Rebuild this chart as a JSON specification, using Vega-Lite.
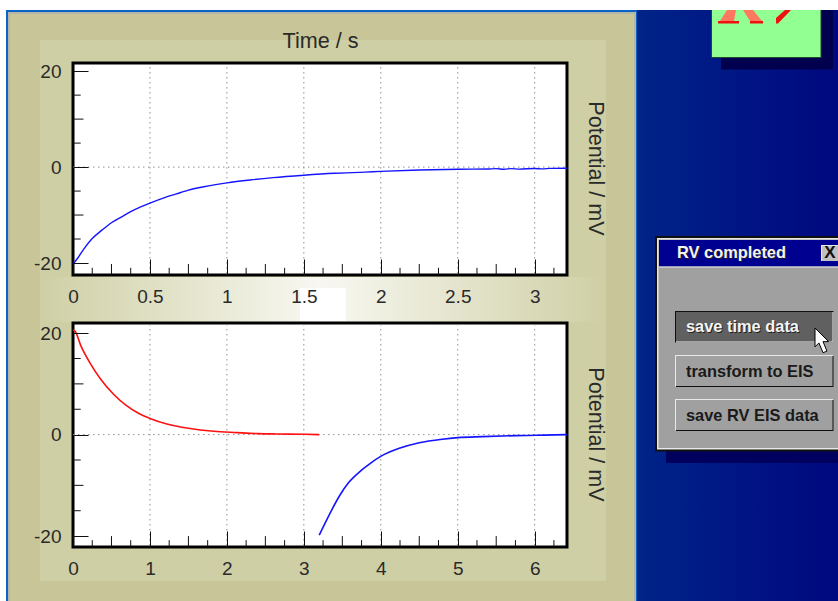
{
"$schema":"https://vega.github.io/schema/vega-lite/v6.json",
"padding":0,"background":"white","bounds":"flush","spacing":0,
"config":{"view":{"stroke":null},"font":"Liberation Sans"},
"datasets":{
"desktop":[{"part":"desktop","x0":637,"x1":838,"y0":10,"y1":601}],
"window":[
{"part":"edge","x0":6,"x1":637,"y0":10,"y1":601},
{"part":"frame","x0":8,"x1":636,"y0":12,"y1":601},
{"part":"outer","x0":10,"x1":634,"y0":14,"y1":601},
{"part":"inner","x0":40,"x1":606,"y0":40,"y1":581}],
"glowL":[{"part":"glow","x0":40,"x1":320,"y0":277,"y1":322}],
"glowR":[{"part":"glow","x0":320,"x1":606,"y0":277,"y1":322}],
"parts":[
{"part":"core","x0":300,"x1":346,"y0":288,"y1":321},
{"part":"boxshadow","x0":721,"x1":833,"y0":10,"y1":69.5},
{"part":"boxedge","x0":711,"x1":821.5,"y0":10,"y1":58},
{"part":"box","x0":712,"x1":820.5,"y0":10,"y1":57},
{"part":"dlgshadow","x0":666,"x1":838,"y0":451,"y1":463},
{"part":"dlgedge","x0":655,"x1":838,"y0":236,"y1":451.5},
{"part":"dlglight","x0":657,"x1":838,"y0":238,"y1":449.5},
{"part":"dlg","x0":658.5,"x1":838,"y0":239.5,"y1":448},
{"part":"bar","x0":659,"x1":838,"y0":240,"y1":266.5},
{"part":"dlglight","x0":659,"x1":838,"y0":266.5,"y1":267.5},
{"part":"dlglight","x0":821,"x1":838,"y0":245,"y1":261},
{"part":"dlg2","x0":822,"x1":838,"y0":246,"y1":261},
{"part":"dlgedge","x0":675,"x1":833.5,"y0":311,"y1":342.5},
{"part":"dlglight","x0":676,"x1":833.5,"y0":312,"y1":342.5},
{"part":"pressed","x0":676,"x1":832.5,"y0":312,"y1":341.5},
{"part":"dlglight","x0":675,"x1":833,"y0":355,"y1":386.5},
{"part":"dlgedge","x0":676,"x1":833.5,"y0":356,"y1":387},
{"part":"dlg","x0":676,"x1":832.5,"y0":356,"y1":386},
{"part":"dlglight","x0":675,"x1":833,"y0":399,"y1":430.5},
{"part":"dlgedge","x0":676,"x1":833.5,"y0":400,"y1":431},
{"part":"dlg","x0":676,"x1":832.5,"y0":400,"y1":430}],
"one":[{"a":1}],
"ticksTopShort":[{"t":0.125},{"t":0.375},{"t":0.625},{"t":0.875},{"t":1.125},{"t":1.375},{"t":1.625},{"t":1.875},{"t":2.125},{"t":2.375},{"t":2.625},{"t":2.875},{"t":3.125}],
"ticksTopMid":[{"t":0.25},{"t":0.75},{"t":1.25},{"t":1.75},{"t":2.25},{"t":2.75}],
"gridTop":[{"t":0.5},{"t":1},{"t":1.5},{"t":2},{"t":2.5},{"t":3}],
"ticksBotShort":[{"t":0.25},{"t":0.75},{"t":1.25},{"t":1.75},{"t":2.25},{"t":2.75},{"t":3.25},{"t":3.75},{"t":4.25},{"t":4.75},{"t":5.25},{"t":5.75},{"t":6.25}],
"ticksBotMid":[{"t":0.5},{"t":1.5},{"t":2.5},{"t":3.5},{"t":4.5},{"t":5.5}],
"gridBot":[{"t":1},{"t":2},{"t":3},{"t":4},{"t":5},{"t":6}],
"yShort":[{"v":15},{"v":5},{"v":-5},{"v":-15}],
"yMid":[{"v":10},{"v":-10}],
"level":[{"v":0}]
},
"vconcat":[
{"width":838,"height":312,
"resolve":{"scale":{"x":"independent","y":"independent"}},
"layer":[
{"encoding":{
"x":{"field":"x0","type":"quantitative","axis":null,"scale":{"domain":[0,838],"nice":false,"zero":false}},
"x2":{"field":"x1"},
"y":{"field":"y0","type":"quantitative","axis":null,"scale":{"domain":[0,312],"reverse":true,"nice":false,"zero":false}},
"y2":{"field":"y1"}},
"layer":[
{"data":{"name":"desktop"},"mark":{"type":"rect","clip":true,"fill":{"gradient":"linear","x1":0,"y1":0,"x2":1,"y2":0,"stops":[{"offset":0,"color":"#002488"},{"offset":1,"color":"#000880"}]}}},
{"data":{"name":"window"},"mark":{"type":"rect","clip":true},
 "encoding":{"color":{"field":"part","type":"nominal","legend":null,"scale":{"domain":["edge","frame","outer","inner"],"range":["#0a62c4","#b4b6a8","#c8c698","#cfcfa5"]}}}},
{"data":{"name":"glowL"},"mark":{"type":"rect","clip":true,"fill":{"gradient":"linear","x1":0,"y1":0,"x2":1,"y2":0,"stops":[{"offset":0,"color":"#cfcfa5"},{"offset":1,"color":"#f8f8f2"}]}}},
{"data":{"name":"glowR"},"mark":{"type":"rect","clip":true,"fill":{"gradient":"linear","x1":0,"y1":0,"x2":1,"y2":0,"stops":[{"offset":0,"color":"#f8f8f2"},{"offset":1,"color":"#cfcfa5"}]}}},
{"data":{"name":"parts"},"mark":{"type":"rect","clip":true},
 "encoding":{"fill":{"field":"part","type":"nominal","legend":null,"scale":{"domain":["core","boxshadow","boxedge","box","dlgshadow","dlgedge","dlglight","dlg","bar","dlg2","pressed"],"range":["#ffffff","#00004e","#1e4a28","#92ff92","#00005f","#101010","#e8e8e8","#a0a0a0","#000090","#c0c0c0","#606060"]}}}},
{"data":{"values":[{"piece":"R","x0":718,"y0":10}]},
 "mark":{"type":"point","filled":true,"opacity":1,"size":10000,"fill":"#ff7860","stroke":null,"shape":"M.18,0L.36,0L.32,.22L.04,.22ZM.5,0L.7,0L.88,.22L.64,.22Z"},
 "encoding":{"x2":null,"y2":null}},
{"data":{"values":[{"piece":"R","x0":718,"y0":10}]},
 "mark":{"type":"point","filled":true,"opacity":1,"size":10000,"fill":"#f01010","stroke":null,"shape":"M0,.22L.42,.22L.42,.27L0,.27ZM.64,.22L.9,.22L.9,.27L.64,.27ZM1.16,.16L1.34,0L1.46,0L1.2,.27L1.16,.27Z"},
 "encoding":{"x2":null,"y2":null}},
{"data":{"values":[{"label":"RV completed","x0":678,"y0":253.5}]},
 "mark":{"type":"text","align":"left","baseline":"middle","font":"Liberation Sans","fontWeight":"bold","fontSize":16.4,"fill":"#202020"},
 "encoding":{"x2":null,"y2":null,"text":{"field":"label"}}},
{"data":{"values":[{"label":"RV completed","x0":677,"y0":252.5}]},
 "mark":{"type":"text","align":"left","baseline":"middle","font":"Liberation Sans","fontWeight":"bold","fontSize":16.4,"fill":"#f4f4f4"},
 "encoding":{"x2":null,"y2":null,"text":{"field":"label"}}},
{"data":{"values":[{"label":"X","x0":830,"y0":253}]},
 "mark":{"type":"text","align":"center","baseline":"middle","font":"Liberation Sans","fontWeight":"bold","fontSize":17,"fill":"#101010"},
 "encoding":{"x2":null,"y2":null,"text":{"field":"label"}}}
]},
{"layer":[
 {"data":{"name":"one"},"mark":{"type":"rect","fill":"white","stroke":"black","strokeWidth":3},
  "encoding":{
  "x":{"datum":0,"type":"quantitative","scale":{"domain":[0,3.21],"range":[73,567],"nice":false,"zero":false},
   "axis":{"values":[0,0.5,1,1.5,2,2.5,3],"offset":-37,"zindex":1,"title":"Time / s","titleX":320,"titleY":-234,"titleAlign":"center","titleBaseline":"middle","titleFontSize":21.6,"titleFontWeight":"normal","titleColor":"#2a2a2a","titleFont":"Liberation Sans","labelExpr":"''+datum.value","labelFont":"Liberation Sans","labelFontSize":19,"labelColor":"#2a2a2a","labelFlush":false,"labelPadding":28,"domain":false,"tickColor":"#111111","tickSize":-16,"grid":false,"labelBound":false,"labelOverlap":false}},
  "x2":{"datum":3.21},
  "y":{"datum":-22.5,"type":"quantitative","scale":{"domain":[-22.5,21.7],"range":[275,63],"nice":false,"zero":false},
   "axis":{"values":[-20,0,20],"offset":-73,"zindex":1,"title":"Potential / mV","labelExpr":"''+datum.value","titleAngle":90,"titleX":521,"titleY":168,"titleAlign":"center","titleBaseline":"middle","titleFontSize":21.6,"titleFontWeight":"normal","titleColor":"#2a2a2a","titleFont":"Liberation Sans","labelFont":"Liberation Sans","labelFontSize":19,"labelColor":"#2a2a2a","labelPadding":27,"labelFlush":false,"domain":false,"tickColor":"#111111","tickSize":-15,"grid":false,"labelOverlap":false}},
  "y2":{"datum":21.7}}},
 {"data":{"name":"gridTop"},"mark":{"type":"rule","color":"#909090","strokeWidth":1,"strokeDash":[1.5,3.5]},
  "encoding":{"x":{"field":"t","type":"quantitative"},"y":{"datum":-22.2,"type":"quantitative"},"y2":{"datum":21.4}}},
 {"data":{"name":"level"},"mark":{"type":"rule","color":"#909090","strokeWidth":1,"strokeDash":[1.5,3.5]},
  "encoding":{"y":{"field":"v","type":"quantitative"},"x":{"datum":0,"type":"quantitative"},"x2":{"datum":3.21}}},
 {"data":{"name":"ticksTopShort"},"mark":{"type":"rule","color":"#111111","strokeWidth":1},
  "encoding":{"x":{"field":"t","type":"quantitative"},"y":{"datum":-22.5,"type":"quantitative"},"y2":{"datum":-21}}},
 {"data":{"name":"ticksTopMid"},"mark":{"type":"rule","color":"#111111","strokeWidth":1},
  "encoding":{"x":{"field":"t","type":"quantitative"},"y":{"datum":-22.5,"type":"quantitative"},"y2":{"datum":-20.2}}},
 {"data":{"name":"yShort"},"mark":{"type":"rule","color":"#111111","strokeWidth":1},
  "encoding":{"y":{"field":"v","type":"quantitative"},"x":{"datum":0,"type":"quantitative"},"x2":{"datum":0.05}}},
 {"data":{"name":"yMid"},"mark":{"type":"rule","color":"#111111","strokeWidth":1},
  "encoding":{"y":{"field":"v","type":"quantitative"},"x":{"datum":0,"type":"quantitative"},"x2":{"datum":0.068}}},
 {"data":{"values":[
 {"t":0,"v":-20.2},{"t":0.03,"v":-19},{"t":0.07,"v":-17.1},{"t":0.125,"v":-14.9},{"t":0.19,"v":-13.1},{"t":0.25,"v":-11.6},{"t":0.31,"v":-10.5},{"t":0.375,"v":-9.3},{"t":0.44,"v":-8.3},{"t":0.5,"v":-7.5},{"t":0.6,"v":-6.3},{"t":0.7,"v":-5.3},{"t":0.75,"v":-4.8},{"t":0.85,"v":-4.1},{"t":1,"v":-3.3},{"t":1.15,"v":-2.7},{"t":1.3,"v":-2.2},{"t":1.5,"v":-1.7},{"t":1.7,"v":-1.3},{"t":1.9,"v":-1.05},{"t":2,"v":-0.9},{"t":2.25,"v":-0.6},{"t":2.5,"v":-0.45},{"t":2.7,"v":-0.4},{"t":2.75,"v":-0.33},{"t":2.8,"v":-0.45},{"t":2.85,"v":-0.32},{"t":2.9,"v":-0.42},{"t":3,"v":-0.3},{"t":3.05,"v":-0.38},{"t":3.1,"v":-0.28},{"t":3.21,"v":-0.25}]},
  "mark":{"type":"line","color":"#1414ff","strokeWidth":1.4,"interpolate":"monotone"},
  "encoding":{"x":{"field":"t","type":"quantitative"},"y":{"field":"v","type":"quantitative"}}}
]}
]},
{"width":838,"height":289,
"resolve":{"scale":{"x":"independent","y":"independent"}},
"layer":[
{"encoding":{
"x":{"field":"x0","type":"quantitative","axis":null,"scale":{"domain":[0,838],"nice":false,"zero":false}},
"x2":{"field":"x1"},
"y":{"field":"y0","type":"quantitative","axis":null,"scale":{"domain":[312,601],"reverse":true,"nice":false,"zero":false}},
"y2":{"field":"y1"}},
"layer":[
{"data":{"name":"desktop"},"mark":{"type":"rect","clip":true,"fill":{"gradient":"linear","x1":0,"y1":0,"x2":1,"y2":0,"stops":[{"offset":0,"color":"#002488"},{"offset":1,"color":"#000880"}]}}},
{"data":{"name":"window"},"mark":{"type":"rect","clip":true},
 "encoding":{"color":{"field":"part","type":"nominal","legend":null,"scale":{"domain":["edge","frame","outer","inner"],"range":["#0a62c4","#b4b6a8","#c8c698","#cfcfa5"]}}}},
{"data":{"name":"glowL"},"mark":{"type":"rect","clip":true,"fill":{"gradient":"linear","x1":0,"y1":0,"x2":1,"y2":0,"stops":[{"offset":0,"color":"#cfcfa5"},{"offset":1,"color":"#f8f8f2"}]}}},
{"data":{"name":"glowR"},"mark":{"type":"rect","clip":true,"fill":{"gradient":"linear","x1":0,"y1":0,"x2":1,"y2":0,"stops":[{"offset":0,"color":"#f8f8f2"},{"offset":1,"color":"#cfcfa5"}]}}},
{"data":{"name":"parts"},"mark":{"type":"rect","clip":true},
 "encoding":{"fill":{"field":"part","type":"nominal","legend":null,"scale":{"domain":["core","boxshadow","boxedge","box","dlgshadow","dlgedge","dlglight","dlg","bar","dlg2","pressed"],"range":["#ffffff","#00004e","#1e4a28","#92ff92","#00005f","#101010","#e8e8e8","#a0a0a0","#000090","#c0c0c0","#606060"]}}}},
{"data":{"values":[{"label":"save time data","x0":687,"y0":328}]},
 "mark":{"type":"text","align":"left","baseline":"middle","font":"Liberation Sans","fontWeight":"bold","fontSize":16.4,"fill":"#202020"},
 "encoding":{"x2":null,"y2":null,"text":{"field":"label"}}},
{"data":{"values":[{"label":"save time data","x0":686,"y0":327}]},
 "mark":{"type":"text","align":"left","baseline":"middle","font":"Liberation Sans","fontWeight":"bold","fontSize":16.4,"fill":"#f4f4f4"},
 "encoding":{"x2":null,"y2":null,"text":{"field":"label"}}},
{"data":{"values":[
{"label":"transform to EIS","x0":686,"y0":371.5},
{"label":"save RV EIS data","x0":686,"y0":415.5}]},
 "mark":{"type":"text","align":"left","baseline":"middle","font":"Liberation Sans","fontWeight":"bold","fontSize":16.4,"fill":"#1a1a1a"},
 "encoding":{"x2":null,"y2":null,"text":{"field":"label"}}},
{"data":{"values":[{"piece":"cursor","x0":815,"y0":328}]},
 "mark":{"type":"point","filled":true,"opacity":1,"size":676,"fill":"#ffffff","stroke":"#000000","strokeWidth":1,"shape":"M0,0L0,1.45L.3,1.15L.62,1.9L.92,1.78L.62,1.05L1.05,1.05Z"},
 "encoding":{"x2":null,"y2":null}}
]},
{"layer":[
 {"data":{"name":"one"},"mark":{"type":"rect","fill":"white","stroke":"black","strokeWidth":3},
  "encoding":{
  "x":{"datum":0,"type":"quantitative","scale":{"domain":[0,6.42],"range":[73,567],"nice":false,"zero":false},
   "axis":{"values":[0,1,2,3,4,5,6],"offset":-54,"zindex":1,"title":null,"labelExpr":"''+datum.value","labelFont":"Liberation Sans","labelFontSize":19,"labelColor":"#2a2a2a","labelFlush":false,"labelPadding":28,"domain":false,"tickColor":"#111111","tickSize":-16,"grid":false,"labelBound":false,"labelOverlap":false}},
  "x2":{"datum":6.42},
  "y":{"datum":-22.15,"type":"quantitative","scale":{"domain":[-22.15,22],"range":[235,11],"nice":false,"zero":false},
   "axis":{"values":[-20,0,20],"offset":-73,"zindex":1,"title":"Potential / mV","labelExpr":"''+datum.value","titleAngle":90,"titleX":521,"titleY":122,"titleAlign":"center","titleBaseline":"middle","titleFontSize":21.6,"titleFontWeight":"normal","titleColor":"#2a2a2a","titleFont":"Liberation Sans","labelFont":"Liberation Sans","labelFontSize":19,"labelColor":"#2a2a2a","labelPadding":27,"labelFlush":false,"domain":false,"tickColor":"#111111","tickSize":-15,"grid":false,"labelOverlap":false}},
  "y2":{"datum":22}}},
 {"data":{"name":"gridBot"},"mark":{"type":"rule","color":"#909090","strokeWidth":1,"strokeDash":[1.5,3.5]},
  "encoding":{"x":{"field":"t","type":"quantitative"},"y":{"datum":-21.85,"type":"quantitative"},"y2":{"datum":21.7}}},
 {"data":{"name":"level"},"mark":{"type":"rule","color":"#909090","strokeWidth":1,"strokeDash":[1.5,3.5]},
  "encoding":{"y":{"field":"v","type":"quantitative"},"x":{"datum":0,"type":"quantitative"},"x2":{"datum":6.42}}},
 {"data":{"name":"ticksBotShort"},"mark":{"type":"rule","color":"#111111","strokeWidth":1},
  "encoding":{"x":{"field":"t","type":"quantitative"},"y":{"datum":-22.15,"type":"quantitative"},"y2":{"datum":-20.8}}},
 {"data":{"name":"ticksBotMid"},"mark":{"type":"rule","color":"#111111","strokeWidth":1},
  "encoding":{"x":{"field":"t","type":"quantitative"},"y":{"datum":-22.15,"type":"quantitative"},"y2":{"datum":-20}}},
 {"data":{"name":"yShort"},"mark":{"type":"rule","color":"#111111","strokeWidth":1},
  "encoding":{"y":{"field":"v","type":"quantitative"},"x":{"datum":0,"type":"quantitative"},"x2":{"datum":0.1}}},
 {"data":{"name":"yMid"},"mark":{"type":"rule","color":"#111111","strokeWidth":1},
  "encoding":{"y":{"field":"v","type":"quantitative"},"x":{"datum":0,"type":"quantitative"},"x2":{"datum":0.136}}},
 {"data":{"values":[
 {"t":0,"v":20.6},{"t":0.03,"v":20.3},{"t":0.1,"v":17.6},{"t":0.23,"v":13.9},{"t":0.36,"v":10.9},{"t":0.53,"v":7.9},{"t":0.7,"v":5.65},{"t":0.85,"v":4.2},{"t":1,"v":3.2},{"t":1.22,"v":2.1},{"t":1.5,"v":1.25},{"t":1.83,"v":0.65},{"t":2.13,"v":0.4},{"t":2.4,"v":0.2},{"t":2.65,"v":0.13},{"t":3.02,"v":0.07},{"t":3.2,"v":0}]},
  "mark":{"type":"line","color":"#ff1010","strokeWidth":1.6,"interpolate":"monotone"},
  "encoding":{"x":{"field":"t","type":"quantitative"},"y":{"field":"v","type":"quantitative"}}},
 {"data":{"values":[
 {"t":3.2,"v":-19.8},{"t":3.34,"v":-15.5},{"t":3.47,"v":-11.9},{"t":3.58,"v":-9.5},{"t":3.75,"v":-7},{"t":3.86,"v":-5.7},{"t":4.01,"v":-4.2},{"t":4.24,"v":-2.7},{"t":4.5,"v":-1.6},{"t":4.8,"v":-0.9},{"t":5,"v":-0.6},{"t":5.32,"v":-0.4},{"t":5.76,"v":-0.2},{"t":6.02,"v":-0.13},{"t":6.42,"v":0}]},
  "mark":{"type":"line","color":"#1414ff","strokeWidth":1.6,"interpolate":"monotone"},
  "encoding":{"x":{"field":"t","type":"quantitative"},"y":{"field":"v","type":"quantitative"}}}
]}
]}
]}
